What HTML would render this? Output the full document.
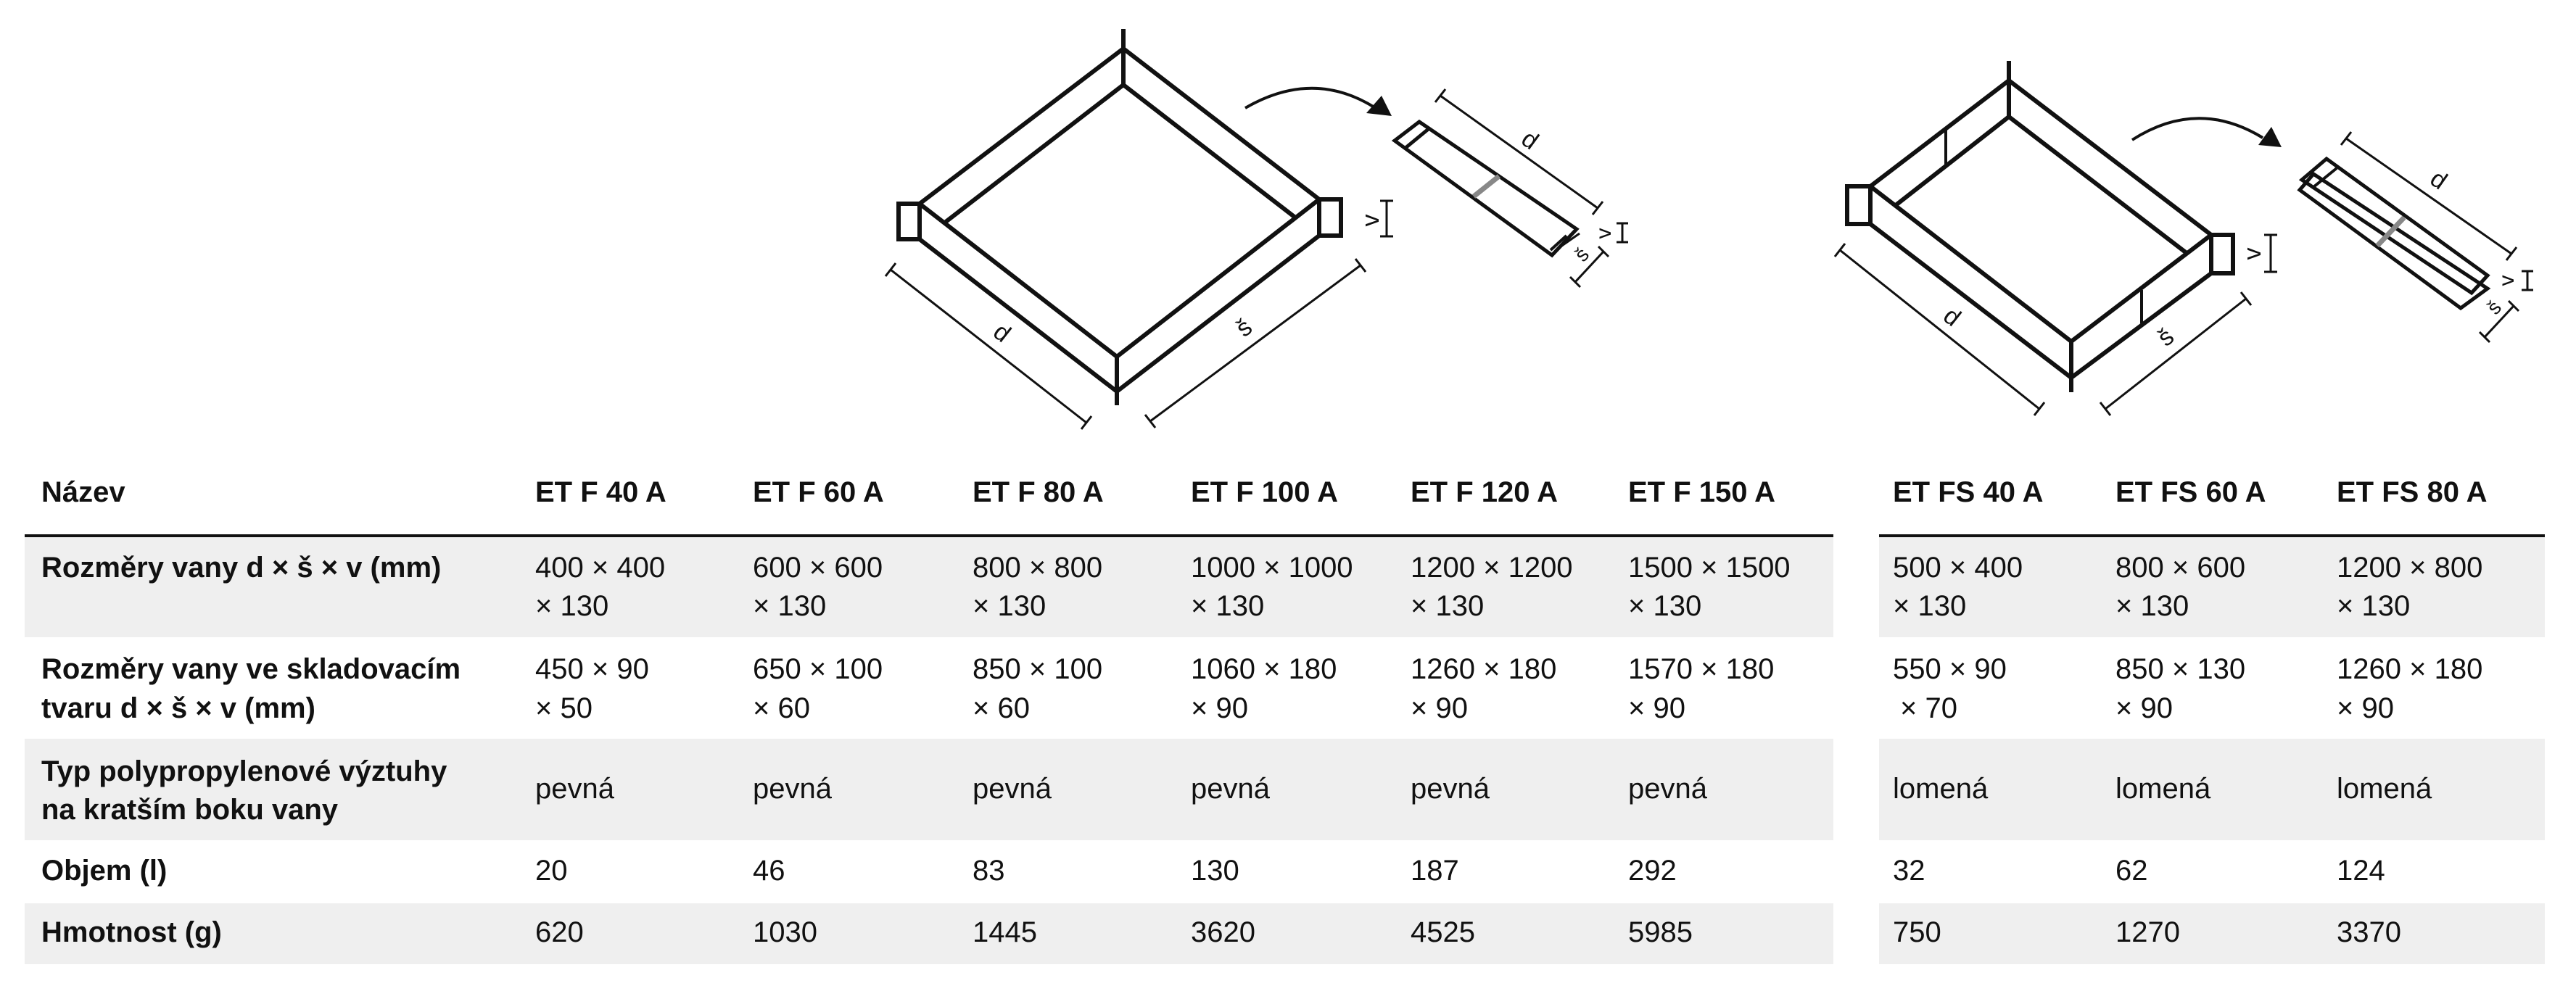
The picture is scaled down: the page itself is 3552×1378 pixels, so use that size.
<!DOCTYPE html>
<html><head><meta charset="utf-8"><style>
html,body{margin:0;padding:0;background:#fff;}
svg{display:block;}
text{font-family:"Liberation Sans",sans-serif;fill:#111;}
.h{font-weight:bold;font-size:40px;}
.v{font-size:40px;}
</style></head><body>
<svg width="3552" height="1378" viewBox="0 0 3552 1378" xmlns="http://www.w3.org/2000/svg">
<g fill="none" stroke="#111" stroke-width="6" stroke-linejoin="miter">
<line x1="1549" y1="40" x2="1549" y2="117"/>
<polyline points="1268,281 1549,67 1819,275"/>
<polyline points="1268,330 1540,540 1819,325"/>
<line x1="1540" y1="492" x2="1540" y2="559"/>
<rect x="1239" y="281" width="29" height="49"/>
<rect x="1819" y="275" width="30" height="50"/>
<polyline points="1304,306 1549,117 1786,300"/>
<polyline points="1268,281 1540,492 1819,275"/>
<polygon points="1923,194 1957,168 2174,316 2140,352" stroke-width="5"/>
<line x1="1972" y1="176" x2="1938" y2="204" stroke-width="5"/>
<line x1="2160" y1="325" x2="2138" y2="345" stroke-width="4"/>
<line x1="2145" y1="345" x2="2178" y2="322" stroke-width="3"/>
<line x1="2770" y1="84" x2="2770" y2="161"/>
<polyline points="2579,257 2770,111 3049,324"/>
<polyline points="2579,309 2856,521 3049,377"/>
<line x1="2856" y1="471" x2="2856" y2="541"/>
<rect x="2547" y="257" width="32" height="52"/>
<rect x="3049" y="324" width="30" height="53"/>
<polyline points="2614,283 2770,161 3015,349"/>
<polyline points="2579,257 2856,471 3049,324"/>
<line x1="2683" y1="179" x2="2683" y2="229" stroke-width="4"/>
<line x1="2953" y1="400" x2="2953" y2="446" stroke-width="4"/>
<polygon points="3208,219 3430,380 3408,404 3174,248" stroke-width="5"/>
<polygon points="3190,240 3430,398 3393,425 3171,262" stroke-width="5"/>
<line x1="3222" y1="232" x2="3190" y2="258" stroke-width="4"/>
</g>
<g stroke="#888" stroke-width="7" fill="none">
<line x1="2067" y1="243" x2="2032" y2="271"/>
<line x1="3315" y1="300" x2="3278" y2="339"/>
</g>
<g fill="none" stroke="#111" stroke-width="4">
<path d="M1717,149 Q1810,95 1895,148"/>
<path d="M2940,193 Q3030,135 3120,190"/>
</g>
<polygon points="1884,156 1919,160 1905,132" fill="#111"/>
<polygon points="3114,200 3146,203 3132,175" fill="#111"/>
<g stroke="#111" stroke-width="3" fill="none">
<line x1="1228" y1="372" x2="1498" y2="583"/><line x1="1221" y1="381" x2="1235" y2="363"/><line x1="1491" y1="592" x2="1505" y2="574"/>
<line x1="1876" y1="366" x2="1586" y2="581"/><line x1="1869" y1="357" x2="1883" y2="375"/><line x1="1579" y1="572" x2="1593" y2="590"/>
<line x1="1912" y1="277" x2="1912" y2="326"/><line x1="1903" y1="277" x2="1921" y2="277"/><line x1="1903" y1="326" x2="1921" y2="326"/>
<line x1="1986" y1="132" x2="2203" y2="287"/><line x1="1979" y1="141" x2="1993" y2="123"/><line x1="2196" y1="296" x2="2210" y2="278"/>
<line x1="2237" y1="308" x2="2237" y2="334"/><line x1="2229" y1="308" x2="2245" y2="308"/><line x1="2229" y1="334" x2="2245" y2="334"/>
<line x1="2211" y1="347" x2="2172" y2="389"/><line x1="2204" y1="340" x2="2218" y2="354"/><line x1="2165" y1="382" x2="2179" y2="396"/>
<line x1="2537" y1="345" x2="2812" y2="564"/><line x1="2530" y1="354" x2="2544" y2="336"/><line x1="2805" y1="573" x2="2819" y2="555"/>
<line x1="3097" y1="412" x2="2903" y2="564"/><line x1="3090" y1="403" x2="3104" y2="421"/><line x1="2896" y1="555" x2="2910" y2="573"/>
<line x1="3131" y1="324" x2="3131" y2="375"/><line x1="3122" y1="324" x2="3140" y2="324"/><line x1="3122" y1="375" x2="3140" y2="375"/>
<line x1="3235" y1="191" x2="3463" y2="350"/><line x1="3228" y1="200" x2="3242" y2="182"/><line x1="3456" y1="359" x2="3470" y2="341"/>
<line x1="3485" y1="374" x2="3485" y2="400"/><line x1="3477" y1="374" x2="3493" y2="374"/><line x1="3477" y1="400" x2="3493" y2="400"/>
<line x1="3466" y1="422" x2="3426" y2="465"/><line x1="3459" y1="415" x2="3473" y2="429"/><line x1="3419" y1="458" x2="3433" y2="472"/>
</g>
<g font-size="34" text-anchor="middle">
<text transform="translate(1381,460) rotate(38)" x="0" y="10">d</text>
<text transform="translate(1716,453) rotate(-37)" x="0" y="10">š</text>
<text transform="translate(1891,304) rotate(-90)" x="0" y="10">v</text>
<text transform="translate(2109,194) rotate(36)" x="0" y="10">d</text>
<text transform="translate(2211,322) rotate(-90)" x="0" y="10" font-size="30">v</text>
<text transform="translate(2182,352) rotate(-47)" x="0" y="8" font-size="28">š</text>
<text transform="translate(2691,438) rotate(38)" x="0" y="10">d</text>
<text transform="translate(2987,466) rotate(-38)" x="0" y="10">š</text>
<text transform="translate(3107,350) rotate(-90)" x="0" y="10">v</text>
<text transform="translate(3362,249) rotate(35)" x="0" y="10">d</text>
<text transform="translate(3456,387) rotate(-90)" x="0" y="10" font-size="30">v</text>
<text transform="translate(3440,425) rotate(-47)" x="0" y="8" font-size="28">š</text>
</g>
<g fill="#efefef">
<rect x="34" y="740" width="2494" height="139"/><rect x="2591" y="740" width="918" height="139"/>
<rect x="34" y="1019" width="2494" height="140"/><rect x="2591" y="1019" width="918" height="140"/>
<rect x="34" y="1246" width="2494" height="84"/><rect x="2591" y="1246" width="918" height="84"/>
</g>
<rect x="34" y="737" width="2494" height="4" fill="#111"/>
<rect x="2591" y="737" width="918" height="4" fill="#111"/>
<g class="h">
<text x="57" y="692">Název</text>
<text x="738" y="692">ET F 40 A</text><text x="1038" y="692">ET F 60 A</text><text x="1341" y="692">ET F 80 A</text>
<text x="1642" y="692">ET F 100 A</text><text x="1945" y="692">ET F 120 A</text><text x="2245" y="692">ET F 150 A</text>
<text x="2610" y="692">ET FS 40 A</text><text x="2917" y="692">ET FS 60 A</text><text x="3222" y="692">ET FS 80 A</text>
<text x="57" y="796">Rozměry vany d × š × v (mm)</text>
<text x="57" y="936">Rozměry vany ve skladovacím</text><text x="57" y="990">tvaru d × š × v (mm)</text>
<text x="57" y="1077">Typ polypropylenové výztuhy</text><text x="57" y="1130">na kratším boku vany</text>
<text x="57" y="1214">Objem (l)</text>
<text x="57" y="1299">Hmotnost (g)</text>
</g>
<g class="v">
<text x="738" y="796">400 × 400</text><text x="738" y="849">× 130</text>
<text x="1038" y="796">600 × 600</text><text x="1038" y="849">× 130</text>
<text x="1341" y="796">800 × 800</text><text x="1341" y="849">× 130</text>
<text x="1642" y="796">1000 × 1000</text><text x="1642" y="849">× 130</text>
<text x="1945" y="796">1200 × 1200</text><text x="1945" y="849">× 130</text>
<text x="2245" y="796">1500 × 1500</text><text x="2245" y="849">× 130</text>
<text x="2610" y="796">500 × 400</text><text x="2610" y="849">× 130</text>
<text x="2917" y="796">800 × 600</text><text x="2917" y="849">× 130</text>
<text x="3222" y="796">1200 × 800</text><text x="3222" y="849">× 130</text>

<text x="738" y="936">450 × 90</text><text x="738" y="990">× 50</text>
<text x="1038" y="936">650 × 100</text><text x="1038" y="990">× 60</text>
<text x="1341" y="936">850 × 100</text><text x="1341" y="990">× 60</text>
<text x="1642" y="936">1060 × 180</text><text x="1642" y="990">× 90</text>
<text x="1945" y="936">1260 × 180</text><text x="1945" y="990">× 90</text>
<text x="2245" y="936">1570 × 180</text><text x="2245" y="990">× 90</text>
<text x="2610" y="936">550 × 90</text><text x="2620" y="990">× 70</text>
<text x="2917" y="936">850 × 130</text><text x="2917" y="990">× 90</text>
<text x="3222" y="936">1260 × 180</text><text x="3222" y="990">× 90</text>

<text x="738" y="1101">pevná</text><text x="1038" y="1101">pevná</text><text x="1341" y="1101">pevná</text>
<text x="1642" y="1101">pevná</text><text x="1945" y="1101">pevná</text><text x="2245" y="1101">pevná</text>
<text x="2610" y="1101">lomená</text><text x="2917" y="1101">lomená</text><text x="3222" y="1101">lomená</text>

<text x="738" y="1214">20</text><text x="1038" y="1214">46</text><text x="1341" y="1214">83</text>
<text x="1642" y="1214">130</text><text x="1945" y="1214">187</text><text x="2245" y="1214">292</text>
<text x="2610" y="1214">32</text><text x="2917" y="1214">62</text><text x="3222" y="1214">124</text>

<text x="738" y="1299">620</text><text x="1038" y="1299">1030</text><text x="1341" y="1299">1445</text>
<text x="1642" y="1299">3620</text><text x="1945" y="1299">4525</text><text x="2245" y="1299">5985</text>
<text x="2610" y="1299">750</text><text x="2917" y="1299">1270</text><text x="3222" y="1299">3370</text>
</g>
</svg>
</body></html>
